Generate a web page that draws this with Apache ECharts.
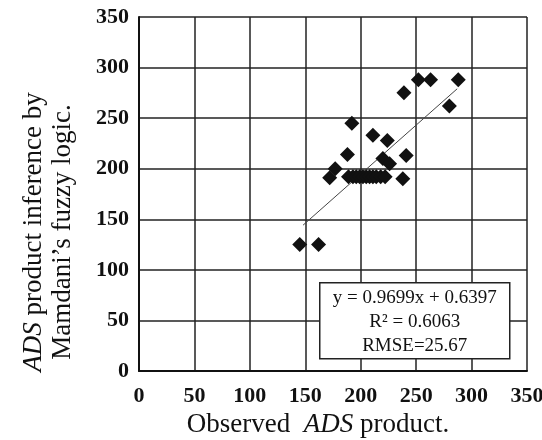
<!DOCTYPE html>
<html>
<head>
<meta charset="utf-8">
<script src="https://cdn.jsdelivr.net/npm/echarts@6/dist/echarts.min.js"></script>
<style>
  html, body { margin: 0; padding: 0; background: #fff; }
  #chart { width: 542px; height: 440px; }
</style>
</head>
<body>
<div id="chart"></div>
<script>
// observed ADS product (x) vs Mamdani fuzzy inference (y)
var observed = [145, 162, 172, 177, 188, 192, 189, 193, 196, 199, 202, 205, 208, 211, 214, 218, 222, 238, 211, 224, 220, 226, 241, 239, 252, 263, 280, 288];
var inferred = [125, 125, 191, 200, 214, 245, 192, 192, 192, 192, 192, 192, 192, 192, 192, 192, 192, 190, 233, 228, 210, 205, 213, 275, 288, 288, 262, 288];

// trend line as printed on the chart
var slope = 0.9699;
var intercept = 0.6397;
var trendX = [148, 287];
var statsLines = ["y = 0.9699x + 0.6397", "R\u00b2 = 0.6063", "RMSE=25.67"];

var points = observed.map(function (x, i) { return [x, inferred[i]]; });
var trend = trendX.map(function (x) { return [x, slope * x + intercept]; });

var font = "'Liberation Serif', 'Times New Roman', serif";

var myChart = echarts.init(document.getElementById("chart"));
myChart.setOption({
  animation: false,
  grid: { left: 139, right: 15, top: 17, bottom: 69, outerBoundsMode: "none" },
  xAxis: {
    type: "value",
    min: 0,
    max: 350,
    interval: 50,
    name: "Observed  {i|ADS} product.",
    nameLocation: "middle",
    nameGap: 39,
    nameTextStyle: {
      fontFamily: font, fontSize: 27, color: "#111",
      padding: [0, 30, 0, 0],
      rich: { i: { fontFamily: font, fontSize: 27, fontStyle: "italic", color: "#111" } }
    },
    axisLine: { lineStyle: { color: "#111", width: 2 } },
    axisTick: { show: false },
    axisLabel: { margin: 14, fontFamily: font, fontSize: 22, fontWeight: "bold", color: "#111" },
    splitLine: { lineStyle: { color: "#222", width: 1.5 } }
  },
  yAxis: {
    type: "value",
    min: 0,
    max: 350,
    interval: 50,
    name: "{i|ADS} product inference by\nMamdani\u2019s fuzzy logic.",
    nameLocation: "middle",
    nameGap: 62,
    nameTextStyle: {
      fontFamily: font, fontSize: 27, color: "#111", lineHeight: 29,
      padding: [0, 76, 0, 0],
      rich: { i: { fontFamily: font, fontSize: 27, fontStyle: "italic", color: "#111", lineHeight: 29 } }
    },
    axisLine: { show: true, lineStyle: { color: "#111", width: 2 } },
    axisTick: { show: false },
    axisLabel: { margin: 10, fontFamily: font, fontSize: 22, fontWeight: "bold", color: "#111" },
    splitLine: { lineStyle: { color: "#222", width: 1.5 } }
  },
  graphic: [
    {
      type: "group",
      left: 319,
      top: 282,
      zlevel: 1,
      children: [
        { type: "rect", z: 100, shape: { x: 0, y: 0, width: 190, height: 76 },
          style: { fill: "#fff", stroke: "#222", lineWidth: 1.5 } },
        { type: "text", z: 101, x: 95, y: 39,
          style: { text: statsLines.join("\n"), fill: "#111", font: "19px " + font,
                   lineHeight: 24, align: "center", verticalAlign: "middle" } }
      ]
    }
  ],
  series: [
    {
      name: "trend",
      type: "line",
      data: trend,
      symbol: "none",
      lineStyle: { color: "#444", width: 1 },
      z: 1
    },
    {
      name: "points",
      type: "scatter",
      symbol: "diamond",
      symbolSize: 15,
      itemStyle: { color: "#111", opacity: 1 },
      data: points,
      z: 2
    }
  ]
});
</script>
</body>
</html>
